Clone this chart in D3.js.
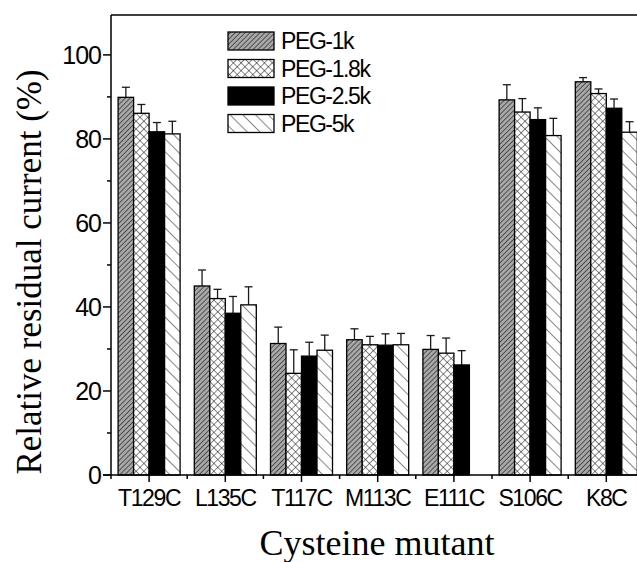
<!DOCTYPE html>
<html>
<head>
<meta charset="utf-8">
<script src="https://cdn.jsdelivr.net/npm/d3@7"></script>
<style>
  html, body { margin: 0; padding: 0; background: #fff; }
  svg { display: block; }
</style>
</head>
<body>
<svg id="chart" width="637" height="562"></svg>
<script>
// ---- data ----
const categories = ["T129C", "L135C", "T117C", "M113C", "E111C", "S106C", "K8C"];
const seriesNames = ["PEG-1k", "PEG-1.8k", "PEG-2.5k", "PEG-5k"];
const peg1k  = [89.9, 45.0, 31.3, 32.2, 29.9, 89.3, 93.6];
const peg18k = [86.1, 42.0, 24.2, 31.0, 29.0, 86.4, 90.8];
const peg25k = [81.7, 38.5, 28.3, 30.9, 26.2, 84.6, 87.3];
const peg5k  = [81.2, 40.5, 29.7, 31.0, null, 80.8, 81.6];
const err1k  = [2.4, 3.8, 3.9, 2.6, 3.3, 3.6, 1.0];
const err18k = [2.1, 2.2, 5.6, 2.0, 3.6, 3.2, 1.1];
const err25k = [2.2, 4.0, 3.3, 2.7, 3.4, 2.8, 2.2];
const err5k  = [3.0, 4.3, 3.6, 2.7, null, 4.1, 2.5];
const yTicks = [0, 20, 40, 60, 80, 100];
const yMinorTicks = [10, 30, 50, 70, 90];

const seriesValues = [peg1k, peg18k, peg25k, peg5k];
const seriesErrors = [err1k, err18k, err25k, err5k];

// ---- layout ----
const svg = d3.select("#chart");
const mLeft = 111, mTop = 15, mBottom = 475;
const step = 76.2;
const mRight = mLeft + step * categories.length;

const x = d3.scaleBand().domain(categories).range([mLeft, mRight]).padding(0);
const xs = d3.scaleBand().domain(seriesNames).range([-31, 31]).padding(0);
const y = d3.scaleLinear().domain([0, 109.5]).range([mBottom, mTop]);

// ---- patterns ----
const defs = svg.append("defs");
// PEG-1k: grey with dense "/" hatch
const p1 = defs.append("pattern").attr("id", "pat1k").attr("patternUnits", "userSpaceOnUse")
  .attr("width", 3.5).attr("height", 3.5).attr("patternTransform", "rotate(45)");
p1.append("rect").attr("width", 3.5).attr("height", 3.5).attr("fill", "#a8a8a8");
p1.append("line").attr("x1", 0).attr("y1", 0).attr("x2", 0).attr("y2", 3.5)
  .attr("stroke", "#333").attr("stroke-width", 1.5);
// PEG-1.8k: cross hatch
const p2 = defs.append("pattern").attr("id", "pat18k").attr("patternUnits", "userSpaceOnUse")
  .attr("width", 5.5).attr("height", 5.5).attr("patternTransform", "rotate(45)");
p2.append("rect").attr("width", 5.5).attr("height", 5.5).attr("fill", "#fff");
p2.append("line").attr("x1", 0).attr("y1", 0).attr("x2", 0).attr("y2", 5.5)
  .attr("stroke", "#111").attr("stroke-width", 1);
p2.append("line").attr("x1", 0).attr("y1", 0).attr("x2", 5.5).attr("y2", 0)
  .attr("stroke", "#111").attr("stroke-width", 1);
// PEG-5k: "\" hatch
const p4 = defs.append("pattern").attr("id", "pat5k").attr("patternUnits", "userSpaceOnUse")
  .attr("width", 9).attr("height", 9).attr("patternTransform", "rotate(-45)");
p4.append("rect").attr("width", 9).attr("height", 9).attr("fill", "#fff");
p4.append("line").attr("x1", 0).attr("y1", 0).attr("x2", 0).attr("y2", 9)
  .attr("stroke", "#111").attr("stroke-width", 1);

const fills = ["url(#pat1k)", "url(#pat18k)", "#000", "url(#pat5k)"];

// ---- bars ----
const barData = [];
seriesNames.forEach((s, si) => {
  categories.forEach((c, ci) => {
    const v = seriesValues[si][ci];
    if (v != null) barData.push({ s, si, c, v, e: seriesErrors[si][ci] });
  });
});

const cx = d => x(d.c) + x.bandwidth() / 2 + xs(d.s);

// error bars (behind bars)
const eg = svg.append("g").attr("stroke", "#1a1a1a").attr("stroke-width", 1.3);
barData.forEach(d => {
  const mx = cx(d) + xs.bandwidth() / 2;
  eg.append("line").attr("x1", mx).attr("x2", mx).attr("y1", y(d.v)).attr("y2", y(d.v + d.e));
  eg.append("line").attr("x1", mx - 4).attr("x2", mx + 4).attr("y1", y(d.v + d.e)).attr("y2", y(d.v + d.e));
});

svg.append("g").selectAll("rect").data(barData).join("rect")
  .attr("x", d => cx(d))
  .attr("y", d => y(d.v))
  .attr("width", xs.bandwidth())
  .attr("height", d => y(0) - y(d.v))
  .attr("fill", d => fills[d.si])
  .attr("stroke", "#000")
  .attr("stroke-width", 1.3);

// ---- axes ----
const axisFont = "'Liberation Sans', Arial, sans-serif";
const ax = svg.append("g").attr("stroke", "#000").attr("stroke-width", 1.5);
ax.append("line").attr("x1", mLeft).attr("x2", mLeft).attr("y1", mTop).attr("y2", mBottom);
ax.append("line").attr("x1", mLeft).attr("x2", 637).attr("y1", mTop).attr("y2", mTop);
ax.append("line").attr("x1", mLeft - 8).attr("x2", 637).attr("y1", mBottom).attr("y2", mBottom);

yTicks.forEach(t => {
  ax.append("line").attr("x1", mLeft - 8).attr("x2", mLeft).attr("y1", y(t)).attr("y2", y(t));
});
yMinorTicks.forEach(t => {
  ax.append("line").attr("x1", mLeft - 4).attr("x2", mLeft).attr("y1", y(t)).attr("y2", y(t));
});
svg.append("g").selectAll("text").data(yTicks).join("text")
  .attr("x", mLeft - 10).attr("y", d => y(d))
  .attr("dy", "0.36em")
  .attr("text-anchor", "end")
  .attr("font-family", axisFont).attr("font-size", 25).attr("letter-spacing", "-1px")
  .text(d => d);

categories.forEach((c, i) => {
  const m = x(c) + x.bandwidth() / 2;
  ax.append("line").attr("x1", m).attr("x2", m).attr("y1", mBottom).attr("y2", mBottom + 7);
  const b = x(c);
  ax.append("line").attr("x1", b).attr("x2", b).attr("y1", mBottom).attr("y2", mBottom + 4);
});
svg.append("g").selectAll("text").data(categories).join("text")
  .attr("x", d => x(d) + x.bandwidth() / 2).attr("y", 506)
  .attr("text-anchor", "middle")
  .attr("font-family", axisFont).attr("font-size", 23).attr("letter-spacing", "-1.4px")
  .text(d => d);

const serif = "'Liberation Serif', 'Times New Roman', serif";
svg.append("text").attr("x", 377).attr("y", 555).attr("text-anchor", "middle")
  .attr("font-family", serif).attr("font-size", 36).text("Cysteine mutant");
svg.append("text").attr("transform", "translate(41,272) rotate(-90)").attr("text-anchor", "middle")
  .attr("font-family", serif).attr("font-size", 35).text("Relative residual current (%)");

// ---- legend ----
const lg = svg.append("g");
seriesNames.forEach((s, i) => {
  const ry = 32 + i * 27.5;
  lg.append("rect").attr("x", 228).attr("y", ry).attr("width", 46).attr("height", 18)
    .attr("fill", fills[i]).attr("stroke", "#000").attr("stroke-width", 1.3);
  lg.append("text").attr("x", 281).attr("y", ry + 17)
    .attr("font-family", axisFont).attr("font-size", 23).attr("letter-spacing", "-1.4px")
    .text(s);
});
</script>
</body>
</html>
